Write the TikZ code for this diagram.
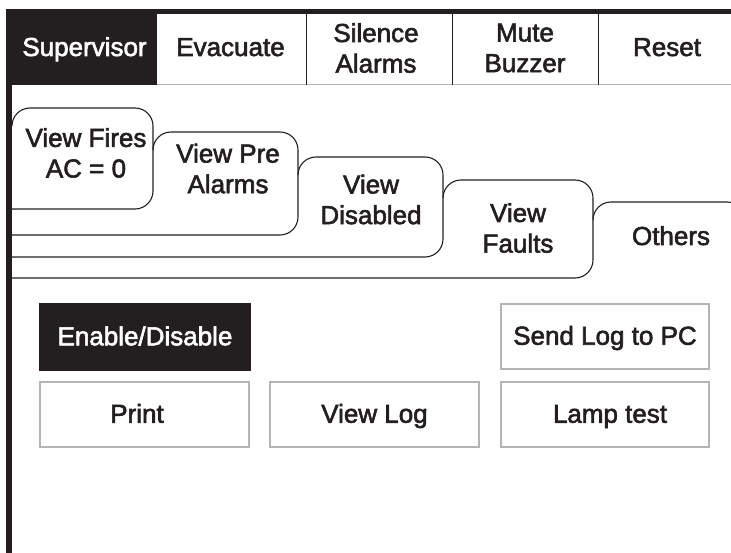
\documentclass[tikz,border=0pt]{standalone}
\usepackage{fontspec}
\setmainfont{Liberation Sans}
\newfontfamily\uifont{Liberation Sans}[FakeBold=2.2]
\definecolor{ink}{HTML}{231F20}
\definecolor{frame}{HTML}{B4B4B4}
\begin{document}
\begin{tikzpicture}[x=1pt,y=-1pt,
  lbl/.style={font=\uifont\fontsize{26}{30.6}\selectfont, inner sep=0pt, align=center, text=ink},
  tabline/.style={draw=ink, line width=1.1pt, rounded corners=18pt},
  btn/.style={draw=frame, line width=1.2pt, inner sep=0pt, minimum width=209pt, minimum height=65pt,
    font=\uifont\fontsize{26}{30.6}\selectfont, text=ink, text height=18pt, text depth=1.5pt}
]
\useasboundingbox (0,0) rectangle (731,553);
% top bar, left bar, active tab
\fill[ink] (6,9.5) rectangle (731,14);
\fill[ink] (6,9.5) rectangle (12,553);
\fill[ink] (6,9.5) rectangle (157,85);
% top row lines
\draw[frame, line width=1pt] (157,85) -- (731,85);
\draw[ink, line width=1pt] (306.5,14) -- (306.5,85);
\draw[ink, line width=1pt] (452.5,14) -- (452.5,85);
\draw[ink, line width=1pt] (598,14) -- (598,85);
% top row labels
\node[lbl, text=white, anchor=base] (sup) at (84.5,56) {Supervisor};
\node[lbl, anchor=base] (evac) at (230.5,56) {Evacuate};
\node[lbl] (sil) at (376,48) {Silence\\Alarms};
\node[lbl] (mute) at (525,48) {Mute\\Buzzer};
\node[lbl, anchor=base] (reset) at (667,56) {Reset};
% folder tabs
\draw[tabline] (12,126) -- (12,108) -- (153,108) -- (153,209) -- (12,209);
\draw[tabline] (153,150) -- (153,132) -- (298,132) -- (298,235) -- (12,235);
\draw[tabline] (298,175) -- (298,157) -- (443,157) -- (443,257) -- (12,257);
\draw[tabline] (443,198) -- (443,180) -- (593,180) -- (593,278) -- (12,278);
\draw[tabline] (593,220) -- (593,202) -- (745,202) -- (745,320);
% tab labels
\node[lbl] (fires) at (86,152.9) {View Fires\\AC = 0};
\node[lbl] (pre) at (228,168.6) {View Pre\\Alarms};
\node[lbl] (dis) at (371,199.5) {View\\Disabled};
\node[lbl] (faults) at (518,228) {View\\Faults};
\node[lbl, anchor=base] (others) at (671,245) {Others};
% buttons
\node[btn, draw=ink, fill=ink, text=white, minimum width=210pt, minimum height=66pt] (enable) at (145,337) {Enable/Disable};
\node[btn, minimum width=208pt] (send) at (605,336.5) {Send Log to PC};
\node[btn] (print) at (144.5,414.5) {Print\kern15pt};
\node[btn] (viewlog) at (374.5,414.5) {View Log};
\node[btn, minimum width=208pt] (lamp) at (605,414.5) {\kern10pt Lamp test};
\end{tikzpicture}
\end{document}
